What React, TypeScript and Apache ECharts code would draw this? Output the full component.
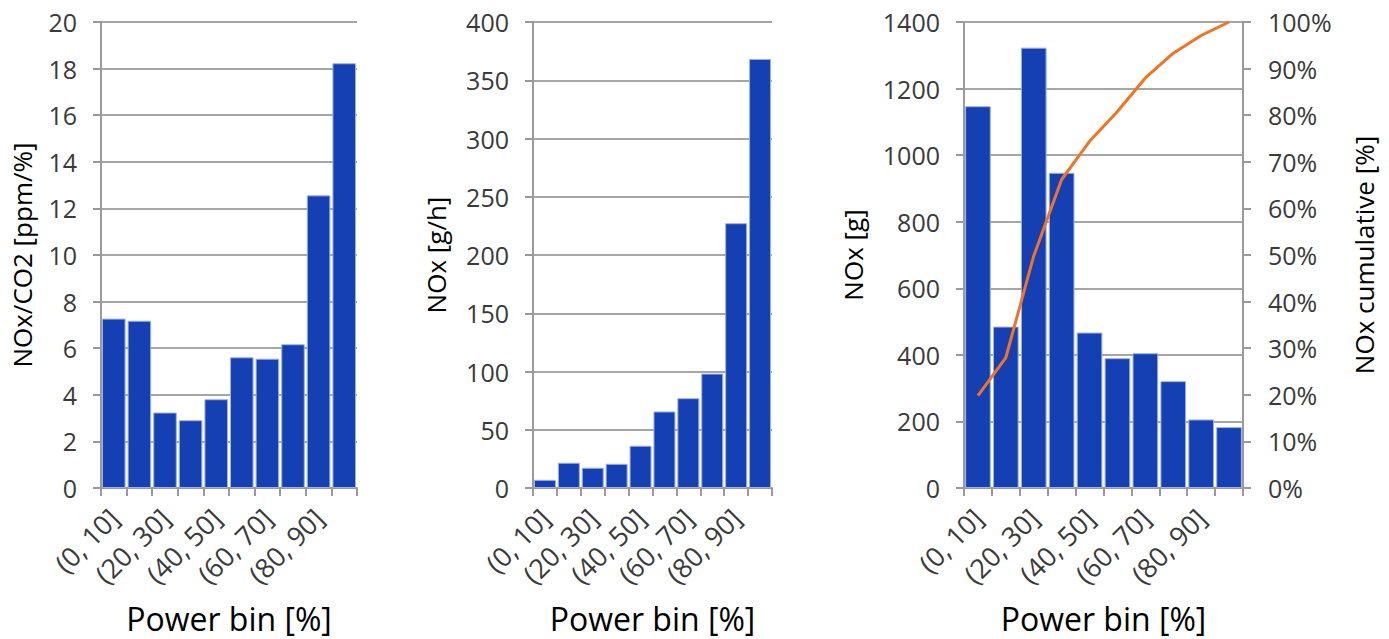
import React, { useEffect, useRef } from "react";
import * as echarts from "echarts";

// Power bins (10 % wide)
const powerBins = [
  "(0, 10]", "(10, 20]", "(20, 30]", "(30, 40]", "(40, 50]",
  "(50, 60]", "(60, 70]", "(70, 80]", "(80, 90]", "(90, 100]",
];

// NOx/CO2 ratio per bin [ppm/%]
const noxCo2Ratio = [7.27, 7.18, 3.24, 2.91, 3.81, 5.61, 5.55, 6.17, 12.56, 18.23];

// NOx mass flow per bin [g/h]
const noxRate = [7, 21.7, 17.4, 20.8, 36.3, 65.7, 77.1, 98.2, 227.3, 368.3];

// NOx total mass per bin [g]
const noxMass = [1147, 485, 1323, 947, 467, 390, 405, 321, 206, 183];

// NOx cumulative share [%]
const noxCumulative = [19.8, 28.0, 49.8, 66.2, 74.4, 80.8, 88.0, 93.3, 97.1, 100];

const FONT = "'Open Sans', 'Noto Sans', sans-serif";
const BAR_COLOR = "#1540b4";
const GRID_COLOR = "#a6a6a6";
const AXIS_COLOR = "#9a9a9a";
const TICK_TEXT = "#3a3a3a";

const tickLabel = (margin: number) => ({
  fontFamily: FONT,
  fontSize: 25,
  color: TICK_TEXT,
  margin,
  formatter: (v: number) => String(v),
});

const nameStyle = { fontFamily: FONT, fontSize: 26, color: "#000" };

const categoryAxis = (gridIndex: number) => ({
  type: "category" as const,
  gridIndex,
  data: powerBins,
  boundaryGap: true,
  name: "Power bin [%]",
  nameLocation: "middle" as const,
  nameGap: 114,
  nameTextStyle: { ...nameStyle, fontSize: 32 },
  axisLine: { show: true, lineStyle: { color: AXIS_COLOR, width: 2 } },
  axisTick: { show: true, interval: 0, length: 8, lineStyle: { color: AXIS_COLOR, width: 2 } },
  axisLabel: {
    fontFamily: FONT,
    fontSize: 27,
    color: TICK_TEXT,
    margin: 25,
    rotate: 45,
    interval: 1,
  },
  splitLine: { show: false },
});

const valueAxis = (
  gridIndex: number,
  name: string,
  max: number,
  interval: number,
  nameGap: number
) => ({
  type: "value" as const,
  gridIndex,
  min: 0,
  max,
  interval,
  name,
  nameLocation: "middle" as const,
  nameGap,
  nameTextStyle: nameStyle,
  axisLine: { show: true, lineStyle: { color: AXIS_COLOR, width: 2 } },
  axisTick: { show: true, length: 8, lineStyle: { color: AXIS_COLOR, width: 2 } },
  axisLabel: tickLabel(24),
  splitLine: { show: true, lineStyle: { color: GRID_COLOR, width: 2 } },
});

const barSeries = (xAxisIndex: number, yAxisIndex: number, data: number[]) => ({
  type: "bar" as const,
  xAxisIndex,
  yAxisIndex,
  data,
  barCategoryGap: "8%",
  itemStyle: { color: BAR_COLOR, borderColor: "#9fb0e4", borderWidth: 1 },
});

export default function App() {
  const ref = useRef<HTMLDivElement>(null);

  useEffect(() => {
    if (!ref.current) return;
    const chart = echarts.init(ref.current, undefined, { renderer: "svg" });

    chart.setOption({
      animation: false,
      backgroundColor: "#ffffff",
      grid: [
        { left: 101, top: 22, width: 256, height: 467 },
        { left: 533, top: 22, width: 239, height: 467 },
        { left: 964, top: 22, width: 279, height: 467 },
      ],
      xAxis: [categoryAxis(0), categoryAxis(1), categoryAxis(2)],
      yAxis: [
        valueAxis(0, "NOx/CO2 [ppm/%]", 20, 2, 66),
        valueAxis(1, "NOx [g/h]", 400, 50, 84),
        valueAxis(2, "NOx [g]", 1400, 200, 98),
        {
          ...valueAxis(2, "NOx cumulative [%]", 100, 10, 108),
          position: "right",
          axisLabel: { ...tickLabel(25), formatter: "{value}%" },
          splitLine: { show: false },
        },
      ],
      series: [
        barSeries(0, 0, noxCo2Ratio),
        barSeries(1, 1, noxRate),
        barSeries(2, 2, noxMass),
        {
          type: "line",
          xAxisIndex: 2,
          yAxisIndex: 3,
          data: noxCumulative,
          symbol: "none",
          lineStyle: { color: "#f47320", width: 3 },
          z: 5,
        },
      ],
    });

    return () => chart.dispose();
  }, []);

  return (
    <div
      ref={ref}
      style={{ position: "fixed", left: 0, top: 0, width: 1389, height: 639, background: "#fff" }}
    />
  );
}
